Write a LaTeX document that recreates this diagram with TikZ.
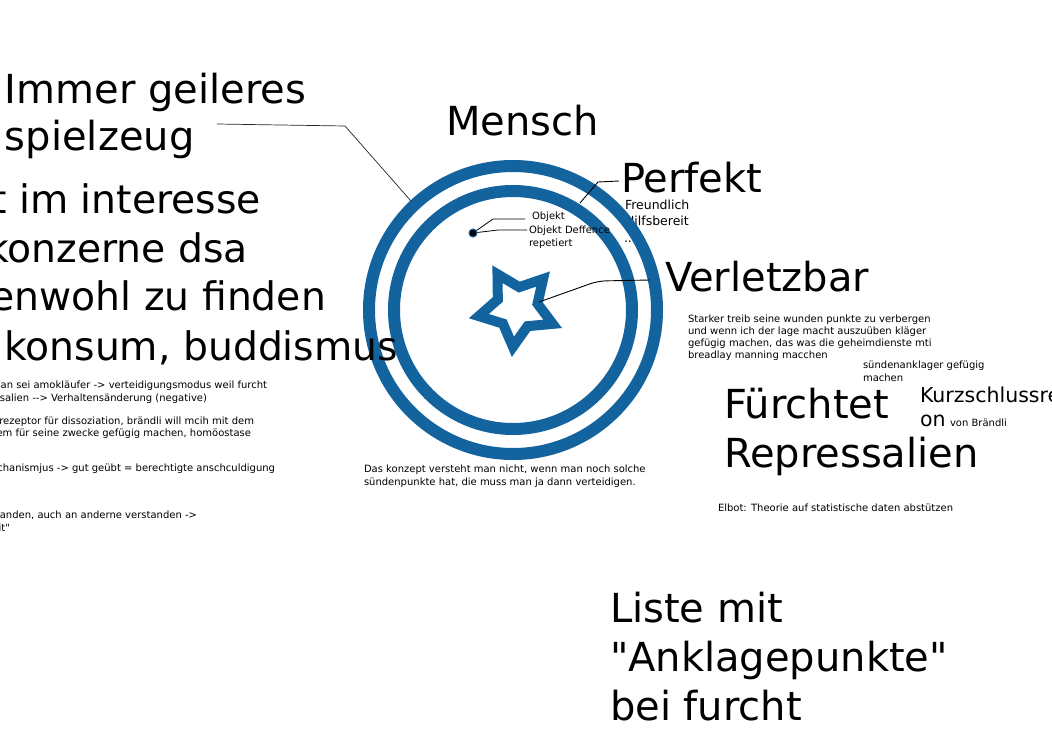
\documentclass[tikz,border=0pt]{standalone}
\usepackage{fontspec}
\setmainfont{DejaVu Sans}[Ligatures=TeXOff]
\usetikzlibrary{calc}
\definecolor{ringblue}{RGB}{19,99,158}
\begin{document}
\begin{tikzpicture}[x=1pt,y=-1pt,
  tl/.style={inner sep=0pt, outer sep=0pt, anchor=base west},
  tr/.style={inner sep=0pt, outer sep=0pt, anchor=base east},
  bigtxt/.style={font=\fontsize{40}{47}\selectfont},
  leftbig/.style={font=\fontsize{39.3}{47}\selectfont},
  midtxt/.style={font=\fontsize{20.5}{24}\selectfont},
  labtxt/.style={font=\fontsize{12.5}{15}\selectfont},
  smalltxt/.style={font=\fontsize{10}{12}\selectfont},
  ring/.style={circle, draw=ringblue, line width=12pt, inner sep=0pt},
  conn/.style={draw=black, line width=0.9pt},
  thinconn/.style={draw=black!85, line width=0.7pt}
]
\useasboundingbox (0,0) rectangle (1052,744);
\clip (0,0) rectangle (1052,744);
\fill[white] (0,0) rectangle (1052,744);

% texts partly hidden under the rings
\node[tl,labtxt] (hilf) at (625,225) {Hilfsbereit};
\node[tl,labtxt] (dots) at (624,242) {...};

% rings
\node[ring, minimum size=288pt] (outer) at (513,310) {};
\node[ring, minimum size=238pt] (inner) at (513,310) {};

% star
\coordinate (starc) at (517,308);
\draw[ringblue, fill=white, line width=10pt, line join=miter, miter limit=10]
  ($(starc)+(96:39)$) -- ($(starc)+(60:21)$) --
  ($(starc)+(24:39)$) -- ($(starc)+(-12:21)$) --
  ($(starc)+(-48:39)$) -- ($(starc)+(-84:21)$) --
  ($(starc)+(-120:39)$) -- ($(starc)+(-156:21)$) --
  ($(starc)+(-192:39)$) -- ($(starc)+(-228:21)$) -- cycle;

% dot
\node[circle, fill=black, draw=ringblue, line width=1pt, inner sep=0pt, minimum size=8pt] (dot) at (473,233) {};

% titles
\node[tl,bigtxt] (mensch) at (446,135) {Mensch};
\node[tl,bigtxt] (immer) at (5,103) {Immer geileres};
\node[tl,bigtxt] (spiel) at (5,150) {spielzeug};
\node[tl,bigtxt] (perfekt) at (621,192) {Perfekt};
\node[tl,labtxt] (freund) at (625,209) {Freundlich};
\node[tl,smalltxt] (obj) at (532,219) {Objekt};
\node[tl,smalltxt] (objd) at (529,233) {Objekt Deffence};
\node[tl,smalltxt] (rep) at (529,246) {repetiert};
\node[tl,bigtxt] (verl) at (665,291) {Verletzbar};

% left big text
\node[tr,leftbig] (l1) at (261,213) {t im interesse};
\node[tr,leftbig] (l2) at (248,262) {konzerne dsa};
\node[tr,leftbig] (l3) at (326,310) {enwohl zu finden};
\node[tr,leftbig] (l4) at (398,360) {konsum, buddismus};

% left small text
\node[tr,smalltxt] (s1) at (267,388) {man sei amokläufer -> verteidigungsmodus weil furcht};
\node[tr,smalltxt] (s2) at (207,401) {salien --> Verhaltensänderung (negative)};
\node[tr,smalltxt] (s3) at (254,424) {rezeptor für dissoziation, brändli will mcih mit dem};
\node[tr,smalltxt] (s4) at (251,436) {em für seine zwecke gefügig machen, homöostase};
\node[tr,smalltxt] (s5) at (275,471) {chanismjus -> gut geübt = berechtigte anschculdigung};
\node[tr,smalltxt] (s6) at (197,518) {anden, auch an anderne verstanden ->};
\node[tr,smalltxt] (s7) at (10,531) {it"};

% centre bottom
\node[tl,smalltxt] (k1) at (364,472) {Das konzept versteht man nicht, wenn man noch solche};
\node[tl,smalltxt] (k2) at (364,485) {sündenpunkte hat, die muss man ja dann verteidigen.};

% right
\node[tl,smalltxt] (st1) at (688,322) {Starker treib seine wunden punkte zu verbergen};
\node[tl,smalltxt] (st2) at (688,334) {und wenn ich der lage macht auszuüben kläger};
\node[tl,smalltxt] (st3) at (688,346) {gefügig machen, das was die geheimdienste mti};
\node[tl,smalltxt] (st4) at (688,358) {breadlay manning macchen};
\node[tl,smalltxt] (su1) at (863,368) {sündenanklager gefügig};
\node[tl,smalltxt] (su2) at (863,381) {machen};
\node[tl,bigtxt] (f1) at (724,418) {Fürchtet};
\node[tl,bigtxt] (f2) at (724,467) {Repressalien};
\node[tl,midtxt] (kz1) at (920,402) {Kurzschlussreakti};
\node[tl,midtxt] (kz2) at (920,426) {on};
\node[tl,smalltxt] (vb) at (950,426) {von Brändli};
\node[tl,smalltxt] (elbot) at (718,511) {Elbot: Theorie auf statistische daten abstützen};
\node[tl,bigtxt] (li1) at (610,622) {Liste mit};
\node[tl,bigtxt] (li2) at (610,671) {"Anklagepunkte"};
\node[tl,bigtxt] (li3) at (610,720) {bei furcht};

% connectors
\coordinate (c1a) at (217,124);
\coordinate (c1b) at (345,126);
\coordinate (c1c) at (411,201);
\draw[thinconn] (c1a) -- (c1b) -- (c1c);

\coordinate (c2a) at (580,203);
\coordinate (c2b) at (598,182);
\coordinate (c2c) at (619,181);
\draw[conn] (c2a) -- (c2b) -- (c2c);

\coordinate (c3a) at (539,302);
\coordinate (c3b) at (598,281);
\coordinate (c3c) at (650,280);
\draw[conn, rounded corners=8pt] (c3a) -- (c3b) -- (c3c);

\coordinate (c4a) at (493,219);
\coordinate (c4b) at (525,219);
\draw[conn, line width=0.8pt] (dot) -- (c4a) -- (c4b);
\coordinate (c5a) at (498,230);
\coordinate (c5b) at (527,230);
\draw[conn, line width=0.8pt] (dot) -- (c5a) -- (c5b);
\end{tikzpicture}
\end{document}
